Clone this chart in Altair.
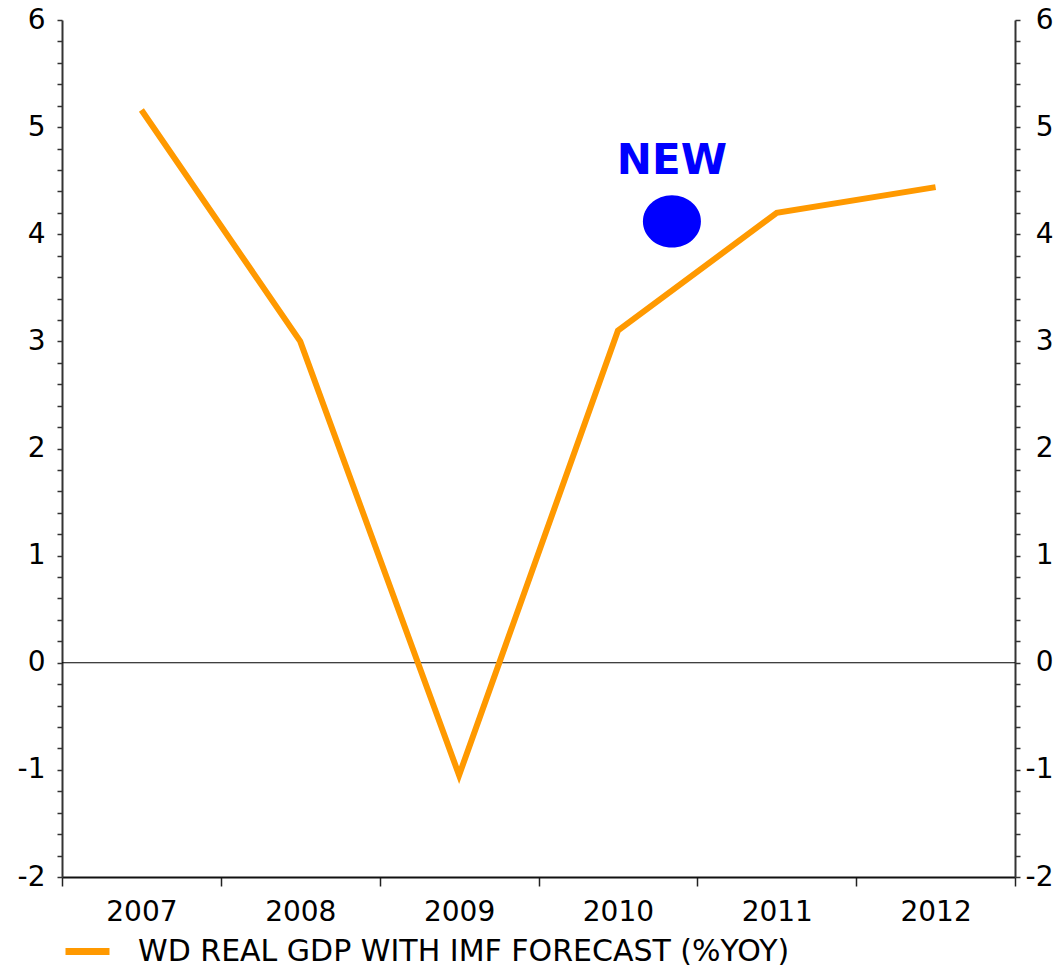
import altair as alt
import pandas as pd

# ---- data ----
years = [2007, 2008, 2009, 2010, 2011, 2012]
gdp = [5.16, 3.0, -1.05, 3.1, 4.2, 4.44]
series_name = "WD REAL GDP WITH IMF FORECAST (%YOY)"
new_x = [2010.34]
new_y = [4.12]
new_label = ["NEW"]
new_label_y = [4.56]
zero_line = [0]

# axis tick positions
x_ticks = [2006.5 + 0.5 * i for i in range(13)]
y_ticks = [round(-2 + 0.2 * i, 1) for i in range(41)]

FONT = "DejaVu Sans"
W, H = 953, 857

line_df = pd.DataFrame({"year": years, "gdp": gdp, "series": [series_name] * len(years)})
dot_df = pd.DataFrame({"x": new_x, "y": new_y})
text_df = pd.DataFrame({"x": new_x, "y": new_label_y, "label": new_label})
zero_df = pd.DataFrame({"zero": zero_line})

x_scale = alt.Scale(domain=[2006.5, 2012.5], nice=False, zero=False)
y_scale = alt.Scale(domain=[-2, 6], nice=False, zero=False)

int_test = "abs(datum.value - round(datum.value)) < 0.000001"

x_axis = alt.Axis(
    values=x_ticks,
    labelExpr=f"{int_test} ? toString(round(datum.value)) : ''",
    tickOpacity={"condition": {"test": int_test, "value": 0}, "value": 1},
    tickSize=9, tickWidth=1.5, tickColor="#222",
    domainColor="#111", domainWidth=2,
    labelFont=FONT, labelFontSize=28, labelColor="#000",
    labelPadding=12, labelOverlap=False, labelFlush=False,
    grid=False, title=None,
)


def y_axis(orient, pad, align):
    return alt.Axis(
        orient=orient,
        values=y_ticks,
        labelExpr=f"{int_test} ? toString(round(datum.value)) : ''",
        tickSize=5, tickWidth=1.5, tickColor="#333",
        domainColor="#333", domainWidth=2,
        labelFont=FONT, labelFontSize=28, labelColor="#000",
        labelAlign=align,
        labelPadding=pad, labelOverlap=False, labelFlush=False,
        grid=False, title=None,
    )


left_axis = y_axis("left", 12, "right")
right_axis = y_axis("right", 33, "right")

line = alt.Chart(line_df).mark_line(strokeWidth=6, strokeJoin="miter").encode(
    x=alt.X("year:Q", scale=x_scale, axis=x_axis),
    y=alt.Y("gdp:Q", scale=y_scale, axis=left_axis),
    color=alt.Color(
        "series:N",
        scale=alt.Scale(range=["#FF9900"]),
        legend=alt.Legend(
            orient="none", legendX=0, legendY=906, title=None,
            symbolType="stroke", symbolSize=1936, symbolStrokeWidth=7,
            labelFont=FONT, labelFontSize=30, labelColor="#000",
            labelOffset=25, padding=0, labelLimit=1000,
        ),
    ),
)

ellipse = "M -1 0 A 1 0.9 0 1 0 1 0 A 1 0.9 0 1 0 -1 0 Z"
dot = alt.Chart(dot_df).mark_point(
    shape=ellipse, filled=True, size=3364, color="#0000FF", opacity=1
).encode(
    x=alt.X("x:Q", scale=x_scale, axis=x_axis),
    y=alt.Y("y:Q", scale=y_scale, axis=left_axis),
)

text = alt.Chart(text_df).mark_text(
    font=FONT, fontSize=42, fontWeight="bold", color="#0000FF",
    align="center", baseline="alphabetic",
).encode(
    x=alt.X("x:Q", scale=x_scale, axis=x_axis),
    y=alt.Y("y:Q", scale=y_scale, axis=left_axis),
    text="label:N",
)

main = alt.layer(line, dot, text)

zero = alt.Chart(zero_df).mark_rule(color="#000", strokeWidth=1.2).encode(
    y=alt.Y("zero:Q", scale=y_scale, axis=right_axis),
)

chart = alt.layer(zero, main).resolve_scale(y="independent").properties(
    width=W, height=H,
    autosize=alt.AutoSizeParams(type="none"),
    padding={"left": 54, "top": 12, "right": 39, "bottom": 90},
).configure_view(stroke=None)

chart.save("out.html", embed_options={"renderer": "svg", "actions": False})
